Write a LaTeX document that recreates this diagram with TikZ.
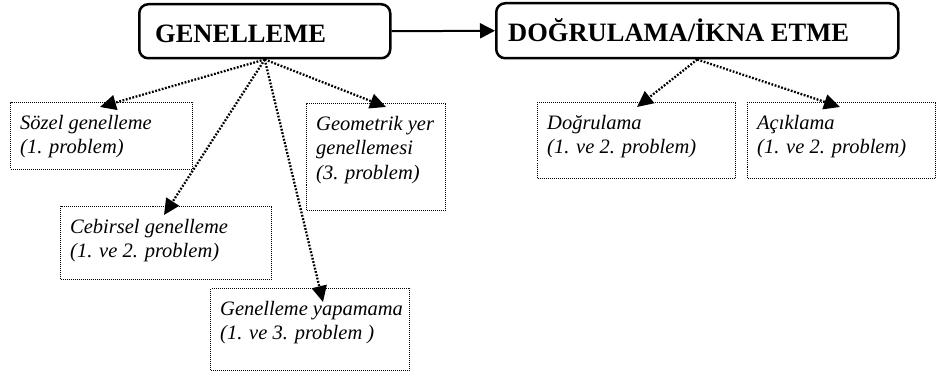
\documentclass[tikz,border=0pt]{standalone}
\usepackage{fontspec}
\setmainfont{Liberation Serif}
\usetikzlibrary{arrows.meta}
\begin{document}
\begin{tikzpicture}[x=1pt,y=-1pt,
  topbox/.style={draw, line width=2.5pt, rounded corners=9pt, anchor=north west, inner sep=0pt},
  subbox/.style={draw, line width=1pt, dash pattern=on 1pt off 1pt, anchor=north west, inner sep=0pt},
  toptxt/.style={anchor=base west, inner sep=0pt, font=\fontsize{26.5}{30}\selectfont\bfseries},
  subtxt/.style={anchor=north west, inner sep=0pt, align=left, font=\fontsize{20.5}{24.5}\selectfont\itshape},
  dotarrow/.style={line width=2.3pt, dash pattern=on 1.8pt off 1.6pt, -{Triangle[length=16pt,width=15pt]}},
  mainarrow/.style={line width=2pt, -{Triangle[length=15pt,width=15pt]}}]
\useasboundingbox (0,0) rectangle (938,374);
% top boxes
\node[topbox, minimum width=251pt, minimum height=54pt] (g) at (138,3) {};
\node[toptxt] (gt) at (155,43) {GENELLEME};
\node[topbox, minimum width=402pt, minimum height=55pt] (d) at (495,2) {};
\node[toptxt] (dt) at (508,42) {DOĞRULAMA/İKNA ETME};
\draw[mainarrow] (g.east) -- (d.west);
% sub boxes
\node[subbox, minimum width=182pt, minimum height=67pt] (s) at (10,102) {};
\node[subtxt] (st) at (20,115) {Sözel genelleme\\(1. problem)};
\node[subbox, minimum width=211pt, minimum height=73pt] (c) at (60,206) {};
\node[subtxt] (ct) at (70,219) {Cebirsel genelleme\\(1. ve 2. problem)};
\node[subbox, minimum width=199pt, minimum height=82pt] (y) at (210,288) {};
\node[subtxt] (yt) at (220,301) {Genelleme yapamama\\(1. ve 3. problem )};
\node[subbox, minimum width=139pt, minimum height=107pt] (m) at (306,103) {};
\node[subtxt] (mt) at (316,116) {Geometrik yer\\genellemesi\\(3. problem)};
\node[subbox, minimum width=198pt, minimum height=76pt] (o) at (537,102) {};
\node[subtxt] (ot) at (547,115) {Doğrulama\\(1. ve 2. problem)};
\node[subbox, minimum width=188pt, minimum height=76pt] (a) at (747,102) {};
\node[subtxt] (at) at (757,115) {Açıklama\\(1. ve 2. problem)};
% arrow ends
\coordinate (se) at (100,107);
\coordinate (ce) at (164,215);
\coordinate (ye) at (323,302);
\coordinate (me) at (386,107);
\coordinate (oe) at (637,107);
\coordinate (ae) at (840,107);
\draw[dotarrow] (g.south) -- (se);
\draw[dotarrow] (g.south) -- (ce);
\draw[dotarrow] (g.south) -- (ye);
\draw[dotarrow] (g.south) -- (me);
\draw[dotarrow] (d.south) -- (oe);
\draw[dotarrow] (d.south) -- (ae);
\end{tikzpicture}
\end{document}
